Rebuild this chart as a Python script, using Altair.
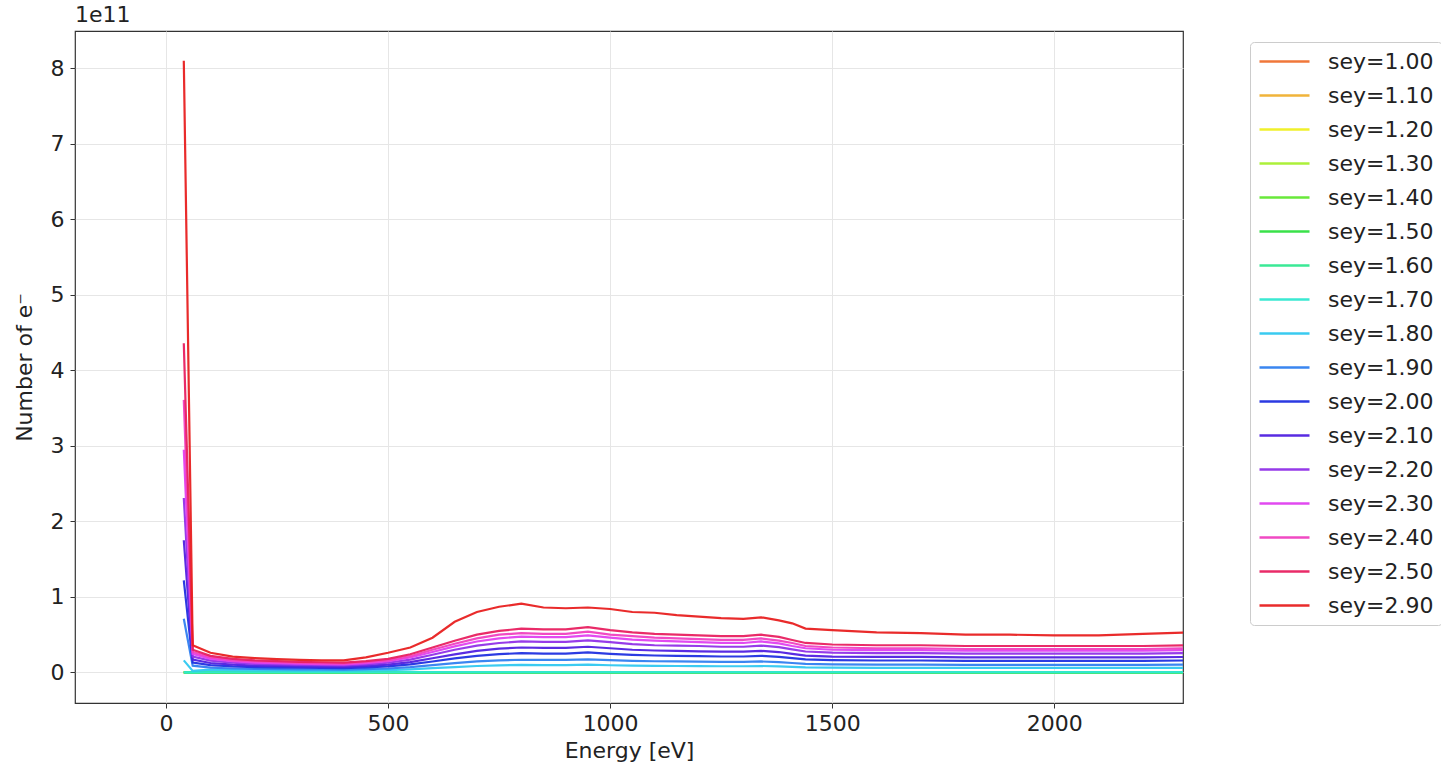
import altair as alt
import pandas as pd

energy = [40, 60, 100, 150, 200, 250, 300, 350, 400, 450, 500, 550, 600, 650, 700, 750,
          800, 850, 900, 950, 1000, 1050, 1100, 1150, 1200, 1250, 1300, 1340, 1380, 1410,
          1440, 1500, 1600, 1700, 1800, 1900, 2000, 2100, 2200, 2300]

sey_labels = ["sey=1.00", "sey=1.10", "sey=1.20", "sey=1.30", "sey=1.40", "sey=1.50",
              "sey=1.60", "sey=1.70", "sey=1.80", "sey=1.90", "sey=2.00", "sey=2.10",
              "sey=2.20", "sey=2.30", "sey=2.40", "sey=2.50", "sey=2.90"]

sey_colors = ["#f07030", "#f0b030", "#f0f020", "#a8f030", "#60e830", "#30e040",
              "#30e890", "#30e8d0", "#30c8f0", "#3080f0", "#2030e0", "#5020e0",
              "#9030e8", "#e040f0", "#f040c0", "#e82060", "#e82020"]

# values in units of 1e11 electrons
zero = [0.0, 0.0, 0.0, 0.0, 0.0, 0.0, 0.0, 0.0, 0.0, 0.0, 0.0, 0.0, 0.0, 0.0, 0.0, 0.0,
        0.0, 0.0, 0.0, 0.0, 0.0, 0.0, 0.0, 0.0, 0.0, 0.0, 0.0, 0.0, 0.0, 0.0,
        0.0, 0.0, 0.0, 0.0, 0.0, 0.0, 0.0, 0.0, 0.0, 0.0]
s170 = [0.0, 0.001, 0.002, 0.002, 0.002, 0.002, 0.002, 0.002, 0.002, 0.002, 0.002, 0.003,
        0.003, 0.004, 0.005, 0.005, 0.005, 0.005, 0.005, 0.005, 0.005, 0.005, 0.005, 0.005,
        0.005, 0.005, 0.005, 0.005, 0.005, 0.004, 0.004, 0.004, 0.004, 0.004, 0.004, 0.004,
        0.004, 0.004, 0.004, 0.004]
s180 = [0.16, 0.02, 0.037, 0.031, 0.027, 0.026, 0.024, 0.023, 0.022, 0.026, 0.031, 0.041,
        0.056, 0.071, 0.085, 0.094, 0.099, 0.097, 0.097, 0.102, 0.095, 0.09, 0.087, 0.085,
        0.083, 0.082, 0.082, 0.085, 0.08, 0.073, 0.066, 0.063, 0.061, 0.061, 0.06, 0.06,
        0.06, 0.06, 0.06, 0.061]
s190 = [0.71, 0.09, 0.064, 0.052, 0.046, 0.044, 0.041, 0.039, 0.038, 0.044, 0.052, 0.07,
        0.096, 0.122, 0.145, 0.16, 0.168, 0.165, 0.165, 0.174, 0.162, 0.154, 0.148, 0.145,
        0.142, 0.139, 0.139, 0.145, 0.136, 0.125, 0.113, 0.107, 0.104, 0.104, 0.10, 0.10,
        0.10, 0.10, 0.10, 0.104]
s200 = [1.22, 0.13, 0.097, 0.079, 0.07, 0.066, 0.062, 0.059, 0.057, 0.066, 0.079, 0.106,
        0.145, 0.185, 0.22, 0.242, 0.255, 0.25, 0.25, 0.265, 0.246, 0.233, 0.224, 0.22,
        0.216, 0.211, 0.211, 0.22, 0.207, 0.19, 0.172, 0.163, 0.158, 0.158, 0.154, 0.154,
        0.154, 0.154, 0.154, 0.158]
s210 = [1.75, 0.17, 0.125, 0.103, 0.091, 0.086, 0.08, 0.077, 0.074, 0.086, 0.103, 0.137,
        0.188, 0.24, 0.285, 0.315, 0.33, 0.325, 0.325, 0.34, 0.32, 0.30, 0.29, 0.285,
        0.28, 0.275, 0.275, 0.285, 0.27, 0.245, 0.222, 0.21, 0.205, 0.205, 0.20, 0.20,
        0.20, 0.20, 0.20, 0.205]
s220 = [2.31, 0.21, 0.156, 0.128, 0.114, 0.107, 0.10, 0.096, 0.092, 0.107, 0.128, 0.17,
        0.234, 0.30, 0.355, 0.39, 0.41, 0.405, 0.405, 0.425, 0.40, 0.375, 0.36, 0.355,
        0.35, 0.34, 0.34, 0.355, 0.335, 0.305, 0.277, 0.263, 0.255, 0.255, 0.25, 0.25,
        0.25, 0.25, 0.25, 0.255]
s230 = [2.95, 0.245, 0.18, 0.148, 0.131, 0.123, 0.115, 0.11, 0.107, 0.123, 0.148, 0.197,
        0.27, 0.345, 0.41, 0.45, 0.475, 0.467, 0.467, 0.49, 0.46, 0.435, 0.42, 0.41,
        0.40, 0.39, 0.39, 0.41, 0.385, 0.35, 0.32, 0.30, 0.295, 0.295, 0.287, 0.287,
        0.287, 0.287, 0.287, 0.295]
s240 = [3.61, 0.27, 0.20, 0.16, 0.145, 0.135, 0.125, 0.12, 0.115, 0.135, 0.16, 0.215,
        0.30, 0.38, 0.45, 0.50, 0.52, 0.51, 0.51, 0.54, 0.50, 0.48, 0.46, 0.45,
        0.44, 0.43, 0.43, 0.45, 0.42, 0.39, 0.35, 0.33, 0.32, 0.32, 0.31, 0.31,
        0.31, 0.31, 0.31, 0.32]
s250 = [4.36, 0.30, 0.22, 0.18, 0.16, 0.15, 0.14, 0.135, 0.13, 0.15, 0.18, 0.24,
        0.33, 0.42, 0.50, 0.55, 0.58, 0.57, 0.57, 0.60, 0.56, 0.53, 0.51, 0.50,
        0.49, 0.48, 0.48, 0.50, 0.47, 0.43, 0.39, 0.37, 0.36, 0.36, 0.35, 0.35,
        0.35, 0.35, 0.35, 0.36]
s290 = [8.10, 0.36, 0.26, 0.21, 0.19, 0.175, 0.165, 0.16, 0.16, 0.20, 0.26, 0.33,
        0.46, 0.67, 0.80, 0.87, 0.91, 0.86, 0.85, 0.86, 0.84, 0.80, 0.79, 0.76,
        0.74, 0.72, 0.71, 0.73, 0.69, 0.65, 0.58, 0.56, 0.53, 0.52, 0.50, 0.50,
        0.49, 0.49, 0.51, 0.53]

series = [zero, zero, zero, zero, zero, zero, zero, s170, s180, s190, s200, s210,
          s220, s230, s240, s250, s290]

rows = []
for k, (lab, vals) in enumerate(zip(sey_labels, series)):
    for e, v in zip(energy, vals):
        rows.append({"energy": e, "n": v, "sey": lab, "order": k})
df = pd.DataFrame(rows)

FONT = "DejaVu Sans"
FS = 22

lines = alt.Chart(df).mark_line(strokeWidth=2.2, clip=True, opacity=0.95).encode(
    x=alt.X("energy:Q",
            scale=alt.Scale(domain=[-205, 2290], nice=False, zero=False),
            axis=alt.Axis(title="Energy [eV]", values=[0, 500, 1000, 1500, 2000],
                          format="d")),
    y=alt.Y("n:Q",
            scale=alt.Scale(domain=[-0.405, 8.495], nice=False),
            axis=alt.Axis(title="Number of e⁻", values=[0, 1, 2, 3, 4, 5, 6, 7, 8],
                          format="d")),
    color=alt.Color("sey:N",
                    scale=alt.Scale(domain=sey_labels, range=sey_colors),
                    legend=alt.Legend(title=None, orient="none", legendX=1175, legendY=11,
                                      symbolType="M-1,0H4", symbolSize=400,
                                      symbolStrokeWidth=2.5, labelFontSize=FS,
                                      labelFont=FONT, labelColor="#222",
                                      labelOffset=47, rowPadding=11,
                                      padding=8, fillColor="white",
                                      strokeColor="#cccccc", cornerRadius=4)),
    detail="order:O",
)

offset = alt.Chart(pd.DataFrame({"t": ["1e11"]})).mark_text(
    align="left", baseline="bottom", fontSize=FS, font=FONT, color="#222"
).encode(x=alt.value(0), y=alt.value(-4), text="t:N")

chart = alt.layer(lines, offset).properties(
    width=1108, height=672,
    autosize=alt.AutoSizeParams(type="none"),
    padding={"left": 75, "top": 31, "right": 258, "bottom": 69},
).configure_view(stroke="#333", strokeWidth=1.2).configure_axis(
    grid=True, gridColor="#e6e6e6", gridWidth=1,
    domain=False, tickColor="#333", tickSize=5, tickWidth=1,
    labelFontSize=FS, labelFont=FONT, labelColor="#222", labelPadding=6,
    titleFontSize=FS, titleFont=FONT, titleColor="#222", titleFontWeight="normal",
).configure_axisX(titlePadding=6, labelPadding=5).configure_axisY(titlePadding=14)

chart.save("out.html", embed_options={"renderer": "svg", "actions": False})
